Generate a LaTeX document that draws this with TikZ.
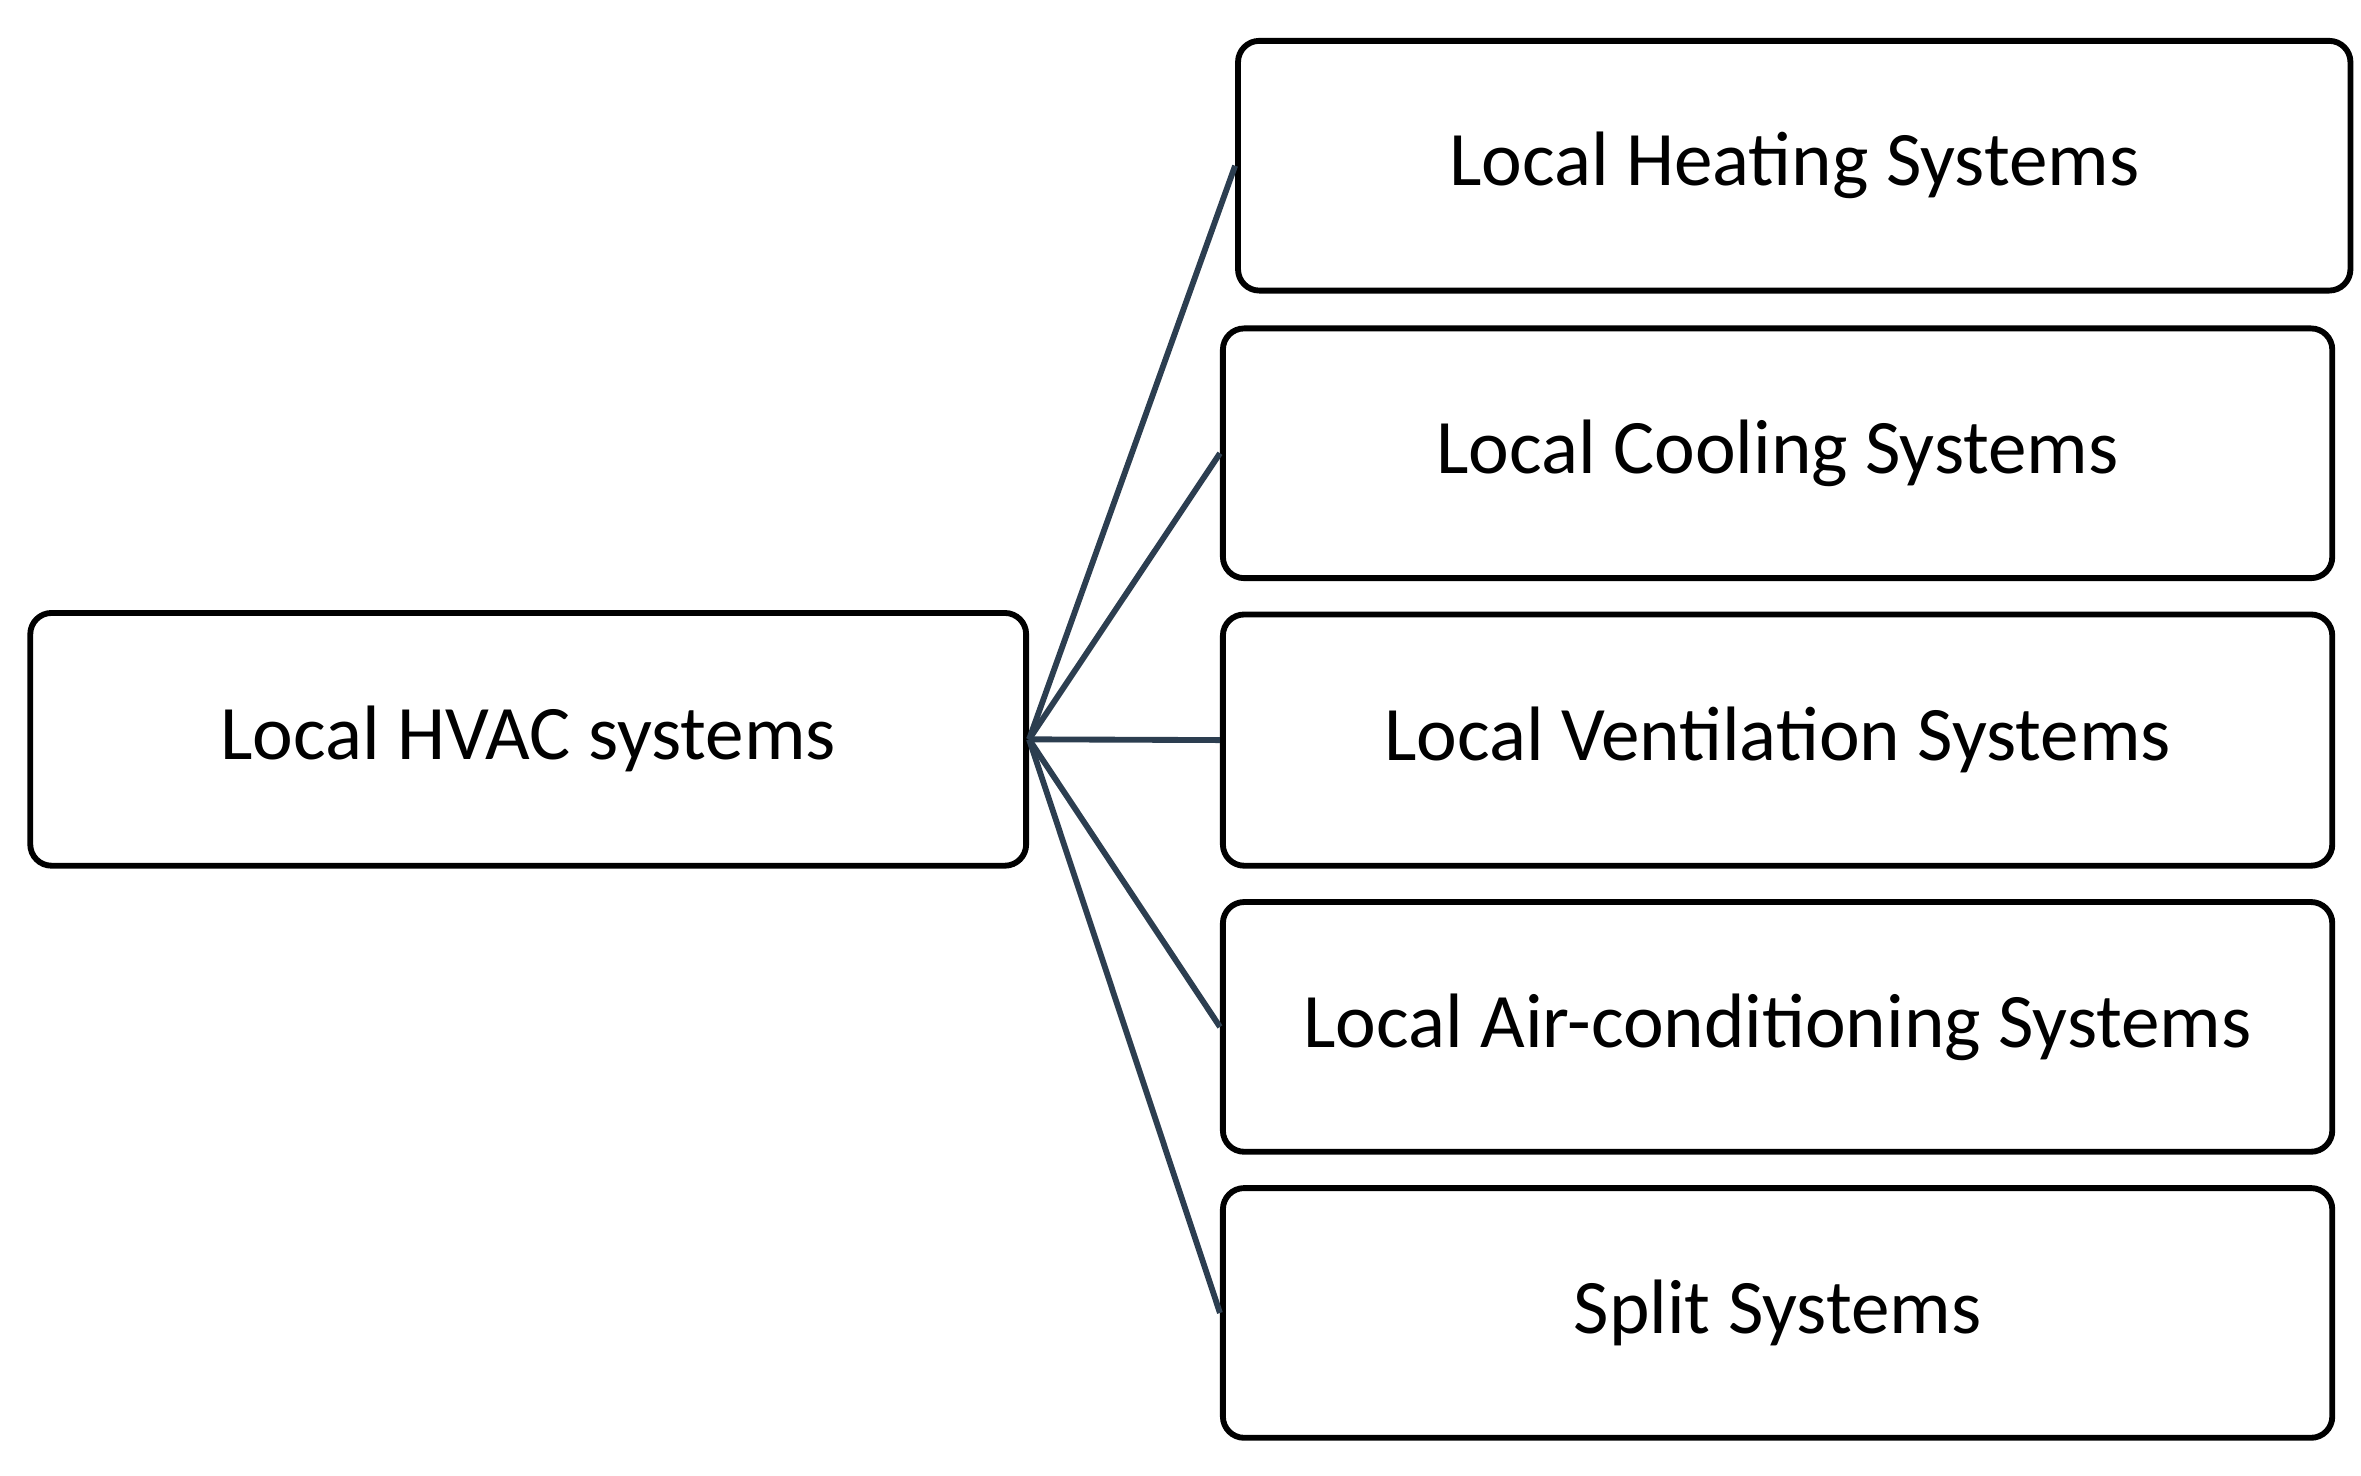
\documentclass[tikz,border=0pt]{standalone}
\usepackage{fontspec}
\setmainfont{Carlito}
\begin{document}
\begin{tikzpicture}[x=1cm,y=1cm,
  box/.style={draw=black,line width=1.1pt,rounded corners=4pt,inner sep=0pt,font=\fontsize{14.5}{17}\selectfont},
  conn/.style={draw={rgb,255:red,44;green,62;blue,80},line width=1.1pt}]
\useasboundingbox (0,0) rectangle (15.6,9.75);
\node[box,minimum width=6.58cm,minimum height=1.67cm] (hvac) at (3.49,4.865) {Local HVAC systems};
\node[box,minimum width=7.35cm,minimum height=1.65cm] (heat) at (11.855,8.655) {Local Heating Systems};
\node[box,minimum width=7.33cm,minimum height=1.65cm] (cool) at (11.745,6.755) {Local Cooling Systems};
\node[box,minimum width=7.33cm,minimum height=1.66cm] (vent) at (11.745,4.86) {Local Ventilation Systems};
\node[box,minimum width=7.33cm,minimum height=1.65cm] (air) at (11.745,2.965) {Local Air-conditioning Systems};
\node[box,minimum width=7.33cm,minimum height=1.65cm] (split) at (11.745,1.075) {Split Systems};
\draw[conn] (hvac.east) -- (heat.west);
\draw[conn] (hvac.east) -- (cool.west);
\draw[conn] (hvac.east) -- (vent.west);
\draw[conn] (hvac.east) -- (air.west);
\draw[conn] (hvac.east) -- (split.west);
\end{tikzpicture}
\end{document}
